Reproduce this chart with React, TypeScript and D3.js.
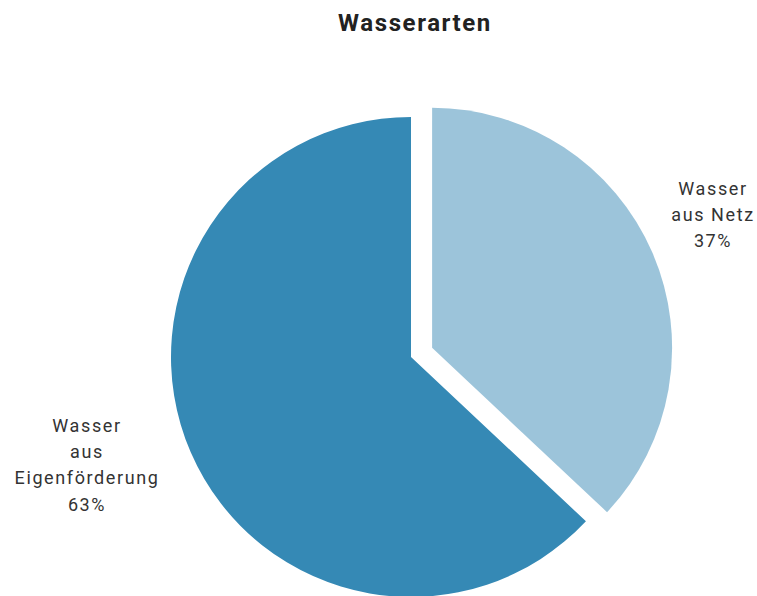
import React from "react";
import * as d3 from "d3";

const categories = ["Wasser aus Netz", "Wasser aus Eigenförderung"];
const values = [37, 63];
const colors = ["#9cc4da", "#3589b5"];
const labelLines = [["Wasser", "aus Netz", "37%"], ["Wasser", "aus", "Eigenförderung", "63%"]];

export default function App() {
  const W = 757, H = 596;
  const cx = 411, cy = 357, r = 240, explode = 23;
  const pie = d3.pie<number>().sort(null).value((d) => d)(values);
  const arc = d3.arc<d3.PieArcDatum<number>>().innerRadius(0).outerRadius(r);
  const labelPos = [
    { x: 713, y: 195 },
    { x: 87, y: 432 },
  ];
  return (
    <svg width={W} height={H} style={{ position: "absolute", left: 0, top: 0 }}>
      <rect width={W} height={H} fill="#fff" />
      <text x={415} y={31} textAnchor="middle" fontFamily="Roboto, 'DejaVu Sans', sans-serif" fontWeight="bold" fontSize={24} letterSpacing={1.6} fill="#222">
        Wasserarten
      </text>
      {pie.map((p, i) => {
        const mid = (p.startAngle + p.endAngle) / 2;
        const off = i === 0 ? explode : 0;
        const dx = Math.sin(mid) * off, dy = -Math.cos(mid) * off;
        return (
          <path key={categories[i]} d={arc(p) || ""} fill={colors[i]} transform={`translate(${cx + dx},${cy + dy})`} />
        );
      })}
      {labelLines.map((lines, i) => (
        <text key={i} textAnchor="middle" fontFamily="Roboto, 'DejaVu Sans', sans-serif" fontSize={18} letterSpacing={1.6} fill="#333">
          {lines.map((l, j) => (
            <tspan key={j} x={labelPos[i].x} y={labelPos[i].y + j * 26.2}>{l}</tspan>
          ))}
        </text>
      ))}
    </svg>
  );
}
